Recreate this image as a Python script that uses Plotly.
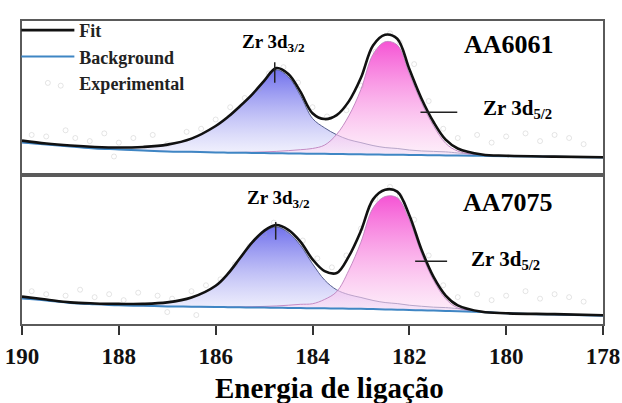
import plotly.graph_objects as go
from plotly.subplots import make_subplots

# ---------------- data ----------------
energy = [190, 189.5, 189, 188.5, 188, 187.5, 187, 186.5, 186, 185.75, 185.5, 185.25,
          185, 184.75, 184.5, 184.25, 184, 183.75, 183.5, 183.25, 183, 182.75, 182.5,
          182.25, 182, 181.75, 181.5, 181.25, 181, 180.5, 180, 179, 178]

# AA6061 (top panel)
fit_6061 = [22.3, 20.4, 19.1, 18.2, 17.8, 18.2, 19.7, 23.6, 31.8, 37.6, 44.6, 52.2,
            61.1, 69.4, 65.6, 54.1, 40.1, 36.3, 38.9, 47.8, 63.1, 84.1, 91.1,
            88.5, 68.8, 49.7, 34.4, 22.9, 17.2, 13.3, 12.5, 11.9, 11.5]
bg_6061 = [21.0, 19.7, 18.5, 17.2, 16.6, 15.9, 15.3, 15.0, 14.6, 14.5, 14.4, 14.3,
           14.2, 14.1, 14.0, 13.9, 13.8, 13.7, 13.6, 13.5, 13.4, 13.3, 13.2,
           13.1, 13.0, 12.9, 12.8, 12.7, 12.6, 12.4, 12.2, 11.8, 11.4]
p32_6061 = [22.3, 20.4, 19.1, 18.2, 17.8, 18.2, 19.7, 23.6, 31.8, 37.6, 44.3, 51.7,
            60.3, 68.2, 63.8, 51.6, 36.7, 30.6, 26.1, 22.9, 21.0, 19.1, 17.8,
            17.2, 16.2, 15.6, 15.3, 15.0, 14.3, 12.9, 12.3, 11.8, 11.4]
p52_6061 = [21.0, 19.7, 18.5, 17.2, 16.6, 15.9, 15.3, 15.0, 14.6, 14.6, 14.7, 14.8,
            15.0, 15.3, 15.8, 16.4, 17.2, 19.4, 26.4, 38.4, 55.5, 78.3, 86.5,
            84.4, 65.6, 47.0, 31.9, 20.6, 15.5, 12.8, 12.4, 11.9, 11.5]

# AA7075 (bottom panel)
fit_7075 = [18.4, 16.4, 14.5, 13.8, 13.5, 13.5, 14.5, 17.8, 25.7, 33.6, 44.1, 54.6,
            62.5, 66.4, 63.2, 55.3, 43.4, 35.5, 34.2, 45.4, 62.5, 83.6, 90.1,
            88.8, 73.0, 50.0, 31.6, 19.1, 12.5, 8.2, 7.2, 6.6, 5.9]
bg_7075 = [17.1, 15.8, 14.1, 13.2, 12.5, 12.2, 11.8, 11.6, 11.4, 11.3, 11.2, 11.1,
           11.0, 10.9, 10.8, 10.7, 10.6, 10.5, 10.4, 10.3, 10.2, 10.0, 9.8,
           9.6, 9.4, 9.2, 9.0, 8.8, 8.6, 8.0, 7.2, 6.3, 5.6]
p32_7075 = [18.4, 16.4, 14.5, 13.8, 13.5, 13.5, 14.5, 17.8, 25.7, 33.6, 43.8, 54.1,
            61.7, 65.2, 61.4, 52.8, 40.4, 29.5, 22.9, 19.7, 17.8, 15.8, 14.4,
            13.7, 12.6, 11.9, 11.3, 11.0, 10.3, 8.5, 7.2, 6.3, 5.6]
p52_7075 = [17.1, 15.8, 14.1, 13.2, 12.5, 12.2, 11.8, 11.6, 11.4, 11.4, 11.5, 11.6,
            11.8, 12.1, 12.6, 13.2, 13.6, 16.5, 21.7, 36.0, 54.9, 77.8, 85.5,
            84.7, 69.8, 47.3, 29.3, 16.9, 10.8, 8.0, 7.2, 6.3, 5.6]

# faint experimental points
exp_e_6061 = [189.8, 189.5, 189.1, 188.9, 188.6, 188.3, 188.0, 187.7, 187.3, 187.0,
              186.6, 186.3, 186.0, 185.7, 185.4, 185.1, 184.9, 184.6, 184.3, 184.0,
              183.7, 183.3, 183.0, 182.7, 182.4, 182.2, 181.9, 181.6, 181.3, 181.0,
              180.6, 180.3, 180.0, 179.6, 179.3, 179.0, 178.7, 178.4, 189.2, 188.1]
exp_i_6061 = [26, 25, 29, 24, 22, 27, 21, 24, 26, 20, 28, 30, 36, 44, 50, 56, 66, 70,
              60, 44, 38, 42, 58, 80, 92, 86, 72, 48, 30, 24, 26, 21, 25, 27, 22, 26,
              24, 20, 58, 12]
exp_e_7075 = [189.8, 189.5, 189.1, 188.8, 188.5, 188.2, 187.9, 187.6, 187.2, 186.9,
              186.5, 186.2, 185.9, 185.6, 185.3, 185.0, 184.8, 184.5, 184.2, 183.9,
              183.6, 183.3, 183.0, 182.7, 182.4, 182.2, 181.9, 181.6, 181.3, 181.0,
              180.6, 180.3, 180.0, 179.6, 179.3, 179.0, 178.7, 178.4, 187.0, 186.4]
exp_i_7075 = [22, 20, 19, 23, 18, 20, 16, 21, 19, 17, 22, 26, 30, 40, 52, 60, 68, 62,
              56, 44, 38, 46, 64, 84, 92, 86, 70, 46, 26, 18, 20, 16, 19, 22, 17, 20,
              18, 15, 8, 6]

x_ticks = [190, 188, 186, 184, 182, 180, 178]
tick_text = ["<b>190</b>", "<b>188</b>", "<b>186</b>", "<b>184</b>", "<b>182</b>",
             "<b>180</b>", "<b>178</b>"]

sample_names = ["AA6061", "AA7075"]
label_32 = "Zr 3d<sub>3/2</sub>"
label_52 = "Zr 3d<sub>5/2</sub>"
x_title = "Energia de ligação"
legend_names = ["Fit", "Background", "Experimental"]

# annotation anchors (energy, intensity) per panel: [top, bottom]
sample_pos = [(179.95, 84.5), (179.97, 81.2)]
l32_pos = [(184.80, 85.8), (184.70, 84.0)]
l32_mark = [(184.78, 59.9, 73.2), (184.76, 56.6, 68.4)]
l52_text = [(180.53, 42.6), (180.76, 43.2)]
l52_line = [(181.77, 181.01, 40.8), (181.88, 181.22, 42.1)]
title_pos = (0.53, -0.212)   # paper coordinates of the x-axis title

# ---------------- figure ----------------
SERIF = "Liberation Serif"
fig = make_subplots(rows=2, cols=1, shared_xaxes=True, vertical_spacing=0,
                    row_heights=[157, 152])

panels = [(fit_6061, bg_6061, p32_6061, p52_6061, exp_e_6061, exp_i_6061),
          (fit_7075, bg_7075, p32_7075, p52_7075, exp_e_7075, exp_i_7075)]

for r, (fit, bg, p32, p52, ee, ei) in enumerate(panels, start=1):
    first = (r == 1)
    fig.add_trace(go.Scatter(x=energy, y=bg, mode="lines", line=dict(width=0, shape="spline"),
                             showlegend=False, hoverinfo="skip"), row=r, col=1)
    fig.add_trace(go.Scatter(x=energy, y=p32, mode="lines", fill="tonexty",
                             line=dict(color="rgba(70,80,130,0.9)", width=1, shape="spline"),
                             fillgradient=dict(type="vertical",
                                               colorscale=[[0, "rgba(238,238,252,0.6)"],
                                                           [1, "rgba(105,105,235,0.95)"]]),
                             showlegend=False, hoverinfo="skip"), row=r, col=1)
    fig.add_trace(go.Scatter(x=energy, y=bg, mode="lines", line=dict(width=0, shape="spline"),
                             showlegend=False, hoverinfo="skip"), row=r, col=1)
    fig.add_trace(go.Scatter(x=energy, y=p52, mode="lines", fill="tonexty",
                             line=dict(color="rgba(190,130,190,0.9)", width=1, shape="spline"),
                             fillgradient=dict(type="vertical",
                                               colorscale=[[0, "rgba(252,228,246,0.55)"],
                                                           [1, "rgba(245,75,210,0.95)"]]),
                             showlegend=False, hoverinfo="skip"), row=r, col=1)
    fig.add_trace(go.Scatter(x=ee, y=ei, mode="markers", name="<b>" + legend_names[2] + "</b>",
                             marker=dict(symbol="circle-open", size=5,
                                         color="rgba(170,170,170,0.3)", line=dict(width=1)),
                             showlegend=first, legendrank=3, hoverinfo="skip"), row=r, col=1)
    fig.add_trace(go.Scatter(x=energy, y=bg, mode="lines", name="<b>" + legend_names[1] + "</b>",
                             line=dict(color="#3f86c4", width=2, shape="spline"),
                             showlegend=first, legendrank=2), row=r, col=1)
    fig.add_trace(go.Scatter(x=energy, y=fit, mode="lines", name="<b>" + legend_names[0] + "</b>",
                             line=dict(color="#111111", width=2.6, shape="spline"),
                             showlegend=first, legendrank=1), row=r, col=1)

    xr = "x" if r == 1 else "x2"
    yr = "y" if r == 1 else "y2"
    sx, sy = sample_pos[r - 1]
    fig.add_annotation(x=sx, y=sy, xref=xr, yref=yr, text="<b>" + sample_names[r - 1] + "</b>",
                       showarrow=False, font=dict(family=SERIF, size=26, color="black"))
    lx, ly = l32_pos[r - 1]
    fig.add_annotation(x=lx, y=ly, xref=xr, yref=yr, text="<b>" + label_32 + "</b>",
                       showarrow=False, font=dict(family=SERIF, size=19, color="black"))
    mx, my0, my1 = l32_mark[r - 1]
    fig.add_shape(type="line", x0=mx, x1=mx, y0=my0, y1=my1, xref=xr, yref=yr,
                  line=dict(color="#222", width=1.5))
    tx, ty = l52_text[r - 1]
    fig.add_annotation(x=tx, y=ty, xref=xr, yref=yr, text="<b>" + label_52 + "</b>",
                       showarrow=False, xanchor="left",
                       font=dict(family=SERIF, size=21, color="black"))
    ax0, ax1, ay = l52_line[r - 1]
    fig.add_shape(type="line", x0=ax0, x1=ax1, y0=ay, y1=ay, xref=xr, yref=yr,
                  line=dict(color="#222", width=1.5))

fig.add_annotation(x=title_pos[0], y=title_pos[1], xref="paper", yref="paper",
                   text="<b>" + x_title + "</b>", showarrow=False, yanchor="middle",
                   font=dict(family=SERIF, size=29, color="black"))

axis_line = dict(showline=True, linecolor="#5a5a5a", linewidth=2, mirror=True,
                 showgrid=False, zeroline=False, automargin=False)
fig.update_xaxes(range=[190, 178], **axis_line)
fig.update_xaxes(showticklabels=False, ticks="", row=1, col=1)
fig.update_xaxes(tickvals=x_ticks, ticktext=tick_text, ticks="outside", ticklen=9,
                 tickwidth=2, tickcolor="#333", ticklabelstandoff=1,
                 tickfont=dict(family=SERIF, size=23, color="#111"),
                 row=2, col=1)
fig.update_yaxes(range=[0, 100], showticklabels=False, ticks="", **axis_line)

fig.update_layout(
    width=622, height=403,
    font=dict(family=SERIF, color="black"),
    margin=dict(l=22, r=19, t=15, b=79),
    paper_bgcolor="white", plot_bgcolor="white",
    showlegend=True,
    legend=dict(x=-0.0097, y=1.03, xanchor="left", yanchor="top", bgcolor="rgba(0,0,0,0)",
                itemwidth=53, tracegroupgap=0, traceorder="normal",
                font=dict(family=SERIF, size=18, color="#222")),
)

fig.write_html("out.html")
